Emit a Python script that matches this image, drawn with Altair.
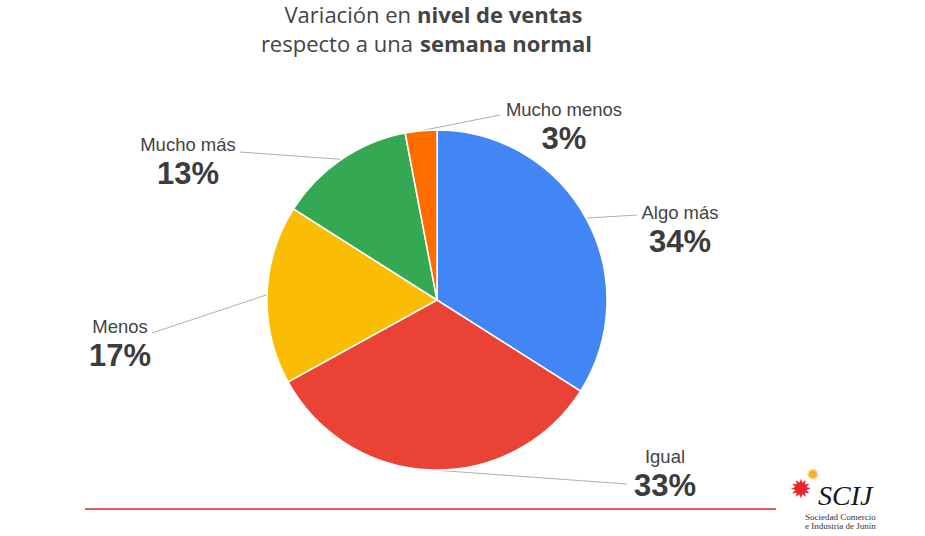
import math
import altair as alt
import pandas as pd

# ---- data ----
categories = ["Algo más", "Igual", "Menos", "Mucho más", "Mucho menos"]
values = [34, 33, 17, 13, 3]
colors = ["#4285F4", "#EA4335", "#FBBC04", "#34A853", "#FF6D01"]

title_line1 = ("Variación en", "nivel de ventas")
title_line2 = ("respecto a una", "semana normal")

# ---- layout (pixels) ----
CX, CY, R = 437, 300, 170
label_x = [680, 665, 120, 188, 564]
label_y = [213, 457, 327, 145, 110]
line_end_x = [637, 627, 152, 240, 500]
line_end_y = [215, 484, 333, 152, 115]

W, H = 925, 536

total = sum(values)
rows = []
cum = 0
for i, (c, v) in enumerate(zip(categories, values)):
    mid = (cum + v / 2) / total * 2 * math.pi
    cum += v
    rows.append({
        "cat": c, "value": v, "order": i, "pct": f"{round(v / total * 100)}%",
        "lx": label_x[i], "ly": label_y[i], "ly2": label_y[i] + 30,
        "sx": CX + R * math.sin(mid), "sy": CY - R * math.cos(mid),
        "ex": line_end_x[i], "ey": line_end_y[i],
    })
df = pd.DataFrame(rows)

base = alt.Chart(df)

pie = base.mark_arc(radius=R, stroke="white", strokeWidth=1.5).encode(
    theta=alt.Theta("value:Q", stack=True),
    color=alt.Color("cat:N", scale=alt.Scale(domain=categories, range=colors), legend=None),
    order=alt.Order("order:Q"),
    x=alt.value(CX), y=alt.value(CY),
)

lines = base.mark_rule(color="#b0b0b0", strokeWidth=1).encode(
    x=alt.X("sx:Q", scale=None, axis=None), y=alt.Y("sy:Q", scale=None, axis=None),
    x2="ex:Q", y2="ey:Q",
)

names = base.mark_text(font="Liberation Sans", fontSize=18.5, color="#444444").encode(
    x=alt.X("lx:Q", scale=None, axis=None), y=alt.Y("ly:Q", scale=None, axis=None),
    text="cat:N",
)
pcts = base.mark_text(font="Liberation Sans", fontSize=31, fontWeight="bold", color="#3c3c3c").encode(
    x=alt.X("lx:Q", scale=None, axis=None), y=alt.Y("ly2:Q", scale=None, axis=None),
    text="pct:N",
)

tdf = pd.DataFrame({"a": [0]})
tbase = alt.Chart(tdf)
tfont = "Open Sans"
TS = 22
t1a = tbase.mark_text(font=tfont, fontSize=TS, color="#444444", align="right").encode(
    x=alt.value(411), y=alt.value(16), text=alt.value(title_line1[0]))
t1b = tbase.mark_text(font=tfont, fontSize=TS, fontWeight="bold", color="#444444", align="left").encode(
    x=alt.value(417), y=alt.value(16), text=alt.value(title_line1[1]))
t2a = tbase.mark_text(font=tfont, fontSize=TS, color="#444444", align="right").encode(
    x=alt.value(413), y=alt.value(45), text=alt.value(title_line2[0]))
t2b = tbase.mark_text(font=tfont, fontSize=TS, fontWeight="bold", color="#444444", align="left").encode(
    x=alt.value(420), y=alt.value(45), text=alt.value(title_line2[1]))

redline = tbase.mark_rule(color="#E05A5E", strokeWidth=2).encode(
    x=alt.value(85), x2=alt.value(776), y=alt.value(509))

gear_red = tbase.mark_text(text="✹", fontSize=26, color="#E8262A", font="DejaVu Sans").encode(
    x=alt.value(801), y=alt.value(490))
gear_yel = tbase.mark_text(text="✹", fontSize=16, color="#F2B134", font="DejaVu Sans").encode(
    x=alt.value(813), y=alt.value(475))
scij = tbase.mark_text(text="SCIJ", fontSize=28, fontStyle="italic", font="Liberation Serif",
                       color="#1a1a1a", align="left").encode(x=alt.value(818), y=alt.value(497))
soc1 = tbase.mark_text(text="Sociedad  Comercio", fontSize=9, font="Liberation Serif",
                       color="#333333", align="left").encode(x=alt.value(805), y=alt.value(517))
soc2 = tbase.mark_text(text="e  Industria  de  Junín", fontSize=9, font="Liberation Serif",
                       color="#333333", align="left").encode(x=alt.value(805), y=alt.value(526))

chart = alt.layer(
    lines, pie, names, pcts, t1a, t1b, t2a, t2b, redline, gear_yel, gear_red, scij, soc1, soc2
).properties(
    width=W, height=H, padding=0, autosize=alt.AutoSizeParams(type="none"),
    background="white",
).configure_view(stroke=None)

chart.save("out.html", embed_options={"renderer": "svg", "actions": False})
